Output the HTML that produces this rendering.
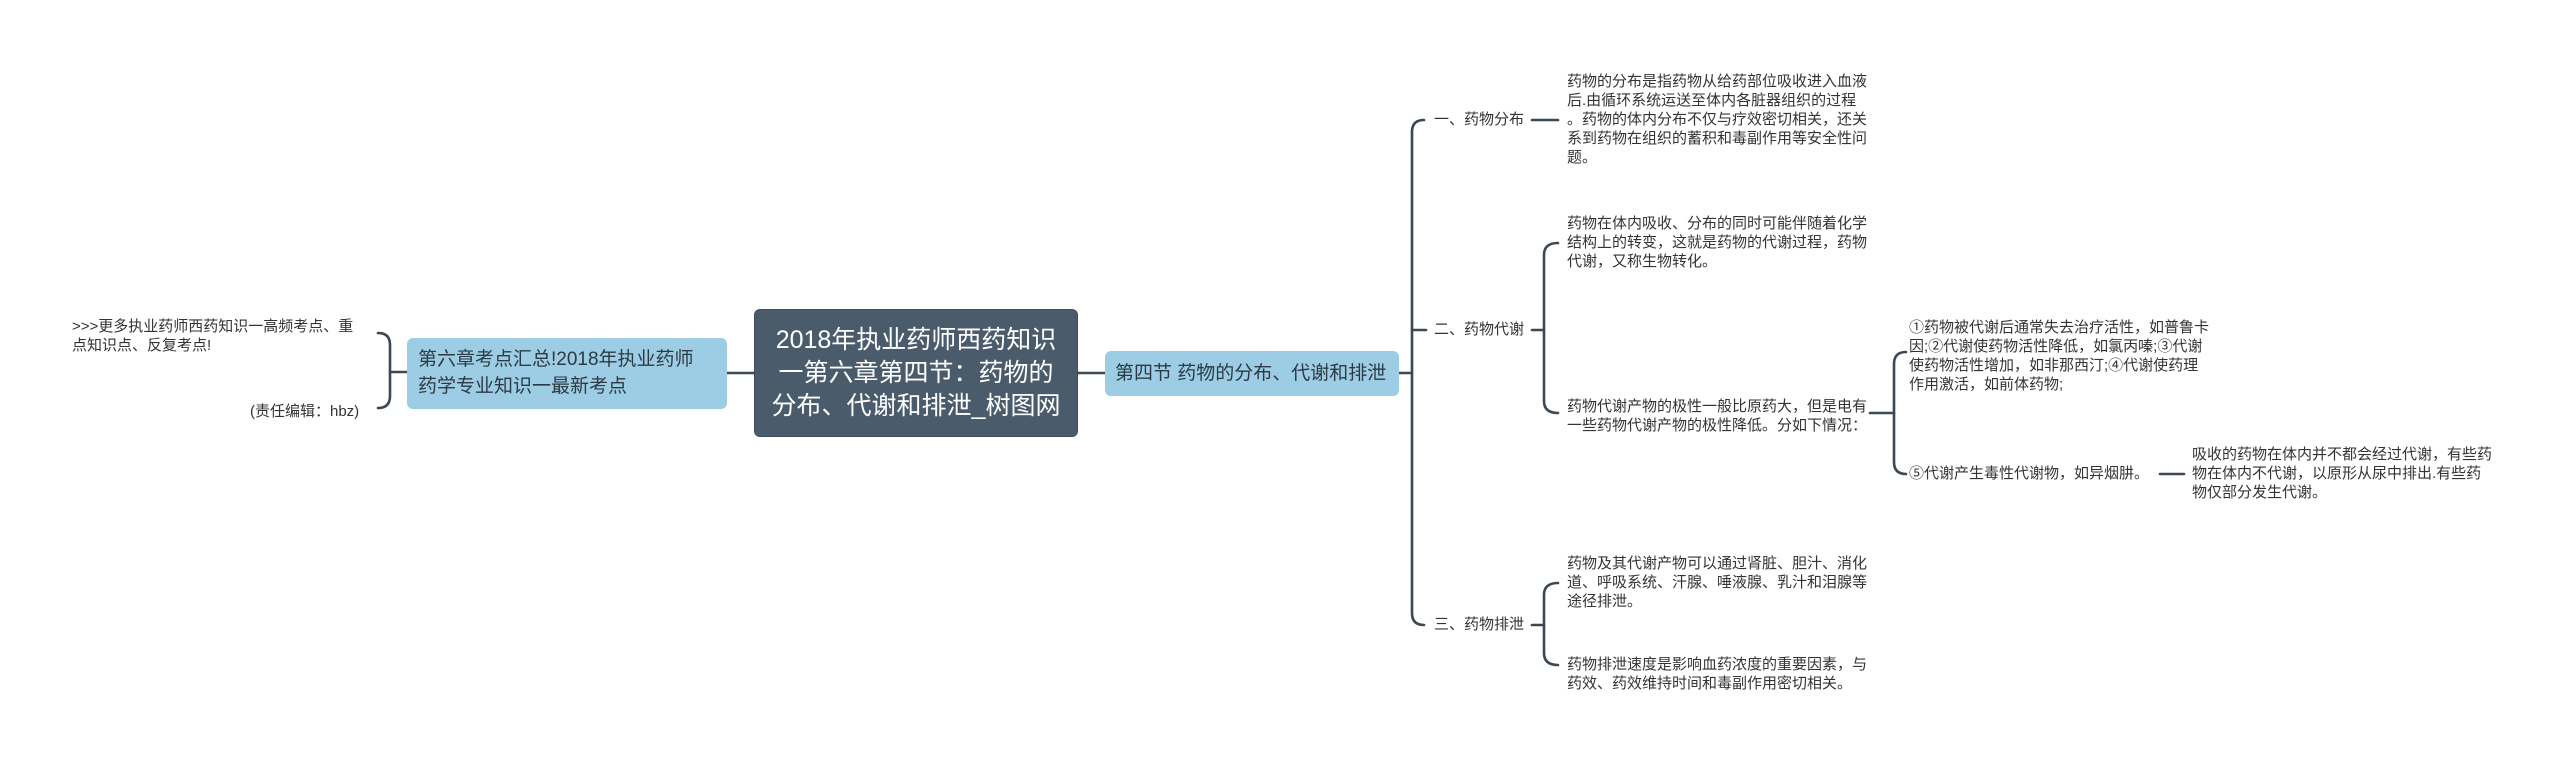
<!DOCTYPE html>
<html><head><meta charset="utf-8"><style>
html,body{margin:0;padding:0;background:#fff;}
body{width:2560px;height:763px;position:relative;overflow:hidden;font-family:"Liberation Sans","Noto Sans CJK SC",sans-serif;color:#333;}
.t{position:absolute;font-size:15px;line-height:19px;white-space:nowrap;}
.node{position:absolute;box-sizing:border-box;border-radius:6px;}
svg{position:absolute;left:0;top:0;}
</style></head><body>
<svg width="2560" height="763" fill="none" stroke="#3b4856" stroke-width="2.6" stroke-linecap="round">
<path d="M727 373 H754"/>
<path d="M407 372 H390"/>
<path d="M378 333 Q390 333 390 345 V396 Q390 408 378 408"/>
<path d="M1078 373 H1105"/>
<path d="M1399 373 H1412"/>
<path d="M1424 120 Q1412 120 1412 132 V613 Q1412 625 1424 625"/>
<path d="M1412 330 H1426"/>
<path d="M1532 120 H1558"/>
<path d="M1532 330 H1544"/>
<path d="M1558 243 Q1544 243 1544 255 V401 Q1544 413 1558 413"/>
<path d="M1870 413 H1894"/>
<path d="M1906 352 Q1894 352 1894 364 V462 Q1894 474 1906 474"/>
<path d="M2160 474 H2184"/>
<path d="M1532 625 H1544"/>
<path d="M1558 583 Q1544 583 1544 595 V653 Q1544 665 1558 665"/>
</svg>

<div class="node" style="left:754px;top:309px;width:324px;height:128px;background:#4a5b6b;border:1px solid #3e4d5b;color:#fff;font-size:25px;line-height:33px;text-align:center;padding-top:14px;white-space:nowrap;">2018年执业药师西药知识<br>一第六章第四节：药物的<br>分布、代谢和排泄_树图网</div>

<div class="node" style="left:407px;top:338px;width:320px;height:71px;background:#9ccde4;font-size:19px;line-height:27px;padding:8px 0 0 11px;white-space:nowrap;color:#2d3a45;">第六章考点汇总!2018年执业药师<br>药学专业知识一最新考点</div>

<div class="t" style="left:72px;top:317px;">&gt;&gt;&gt;更多执业药师西药知识一高频考点、重<br>点知识点、反复考点!</div>
<div class="t" style="left:250px;top:402px;">(责任编辑：hbz)</div>

<div class="node" style="left:1105px;top:351px;width:294px;height:45px;background:#9ccde4;font-size:19px;line-height:45px;padding-left:10px;white-space:nowrap;color:#2d3a45;">第四节 药物的分布、代谢和排泄</div>

<div class="t" style="left:1434px;top:110px;">一、药物分布</div>
<div class="t" style="left:1434px;top:320px;">二、药物代谢</div>
<div class="t" style="left:1434px;top:615px;">三、药物排泄</div>

<div class="t" style="left:1567px;top:72px;">药物的分布是指药物从给药部位吸收进入血液<br>后.由循环系统运送至体内各脏器组织的过程<br>。药物的体内分布不仅与疗效密切相关，还关<br>系到药物在组织的蓄积和毒副作用等安全性问<br>题。</div>
<div class="t" style="left:1567px;top:214px;">药物在体内吸收、分布的同时可能伴随着化学<br>结构上的转变，这就是药物的代谢过程，药物<br>代谢，又称生物转化。</div>
<div class="t" style="left:1567px;top:397px;">药物代谢产物的极性一般比原药大，但是电有<br>一些药物代谢产物的极性降低。分如下情况：</div>

<div class="t" style="left:1909px;top:318px;">①药物被代谢后通常失去治疗活性，如普鲁卡<br>因;②代谢使药物活性降低，如氯丙嗪;③代谢<br>使药物活性增加，如非那西汀;④代谢使药理<br>作用激活，如前体药物;</div>
<div class="t" style="left:1909px;top:464px;">⑤代谢产生毒性代谢物，如异烟肼。</div>
<div class="t" style="left:2192px;top:445px;">吸收的药物在体内并不都会经过代谢，有些药<br>物在体内不代谢，以原形从尿中排出.有些药<br>物仅部分发生代谢。</div>

<div class="t" style="left:1567px;top:554px;">药物及其代谢产物可以通过肾脏、胆汁、消化<br>道、呼吸系统、汗腺、唾液腺、乳汁和泪腺等<br>途径排泄。</div>
<div class="t" style="left:1567px;top:655px;">药物排泄速度是影响血药浓度的重要因素，与<br>药效、药效维持时间和毒副作用密切相关。</div>
</body></html>
